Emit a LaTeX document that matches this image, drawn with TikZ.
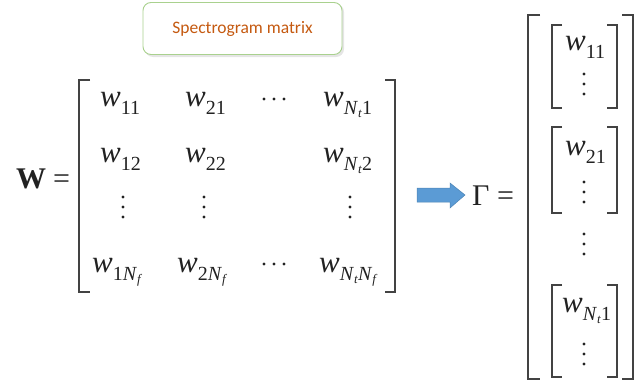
\documentclass[tikz,border=0pt]{standalone}
\usepackage{fontspec}
\setmainfont{Liberation Serif}
\newfontfamily\tnr{Liberation Serif}
\newfontfamily\boxfont{Carlito}
\newcommand\wsub[1]{\textit{w}\raisebox{-8pt}{\tnr\fontsize{20}{20}\selectfont #1}}
\newcommand\Nt{\textit{N}\raisebox{-3pt}{\tnr\fontsize{13}{13}\selectfont\textit{t}}}
\newcommand\Nf{\textit{N}\raisebox{-3pt}{\tnr\fontsize{13}{13}\selectfont\textit{f}}}
\definecolor{boxgreen}{HTML}{A9D18E}
\definecolor{boxorange}{HTML}{C55A11}
\definecolor{arrowblue}{HTML}{5B9BD5}
\definecolor{ink}{HTML}{222222}
\tikzset{
  ent/.style={font=\tnr\fontsize{31}{31}\selectfont, inner sep=0pt, anchor=base west, text=ink},
  big/.style={font=\tnr\fontsize{30}{30}\selectfont, inner sep=0pt, anchor=base west, text=ink},
  brk/.style={draw=ink!85, line width=1.2pt},
  dot/.style={fill=ink},
  titlebox/.style={draw=boxgreen, line width=0.9pt, rounded corners=8pt, fill=white, minimum width=199pt, minimum height=52pt, font=\boxfont\fontsize{17.5}{17.5}\selectfont, text=boxorange}
}
\begin{document}
\begin{tikzpicture}[x=1pt,y=-1pt]
\useasboundingbox (0,0) rectangle (644,380);
% title box
\fill[black!10, rounded corners=8pt] (145,4) rectangle (344,57);
\node[titlebox] (title) at (242.5,28.5) {Spectrogram matrix};
% W =
\node[big] (W) at (16,188) {\textbf{W}};
\node[big] (eq1) at (53,188) {=};
% main matrix brackets
\draw[brk] (90,80) -- (79,80) -- (79,292) -- (90,292);
\draw[brk] (385,80) -- (395,80) -- (395,292) -- (385,292);
% entries
\node[ent] (w11) at (100,106) {\wsub{11}};
\node[ent] (w21) at (185,106) {\wsub{21}};
\node[ent] (wN1) at (323,106) {\wsub{\Nt 1}};
\node[ent] (w12) at (100,162) {\wsub{12}};
\node[ent] (w22) at (185,162) {\wsub{22}};
\node[ent] (wN2) at (323,162) {\wsub{\Nt 2}};
\node[ent] (w1N) at (92,272) {\wsub{1\Nf}};
\node[ent] (w2N) at (177,272) {\wsub{2\Nf}};
\node[ent] (wNN) at (319,272) {\wsub{\Nt\Nf}};
% horizontal dots
\foreach \x in {264,274,284} {\fill[dot] (\x,99) circle (1.7); \fill[dot] (\x,264) circle (1.7);}
% vertical dots
\foreach \x in {123,204,350} {\foreach \y in {197,207,217} {\fill[dot] (\x,\y) circle (1.7);}}
% block arrow
\path[fill=arrowblue, draw=arrowblue!85!black, line width=0.5pt]
  (417,188) -- (450,188) -- (450,183) -- (465,195) -- (450,208) -- (450,202) -- (417,202) -- cycle;
% Gamma =
\node[big] (G) at (472,205) {Γ};
\node[big] (eq2) at (497,205) {=};
% outer bracket
\draw[brk] (540,15) -- (528,15) -- (528,379) -- (540,379);
\draw[brk] (622,15) -- (633,15) -- (633,379) -- (622,379);
% inner blocks
\draw[brk] (562,25) -- (552,25) -- (552,108) -- (562,108);
\draw[brk] (607,25) -- (617,25) -- (617,108) -- (607,108);
\draw[brk] (562,127) -- (552,127) -- (552,213) -- (562,213);
\draw[brk] (607,127) -- (617,127) -- (617,213) -- (607,213);
\draw[brk] (562,285) -- (552,285) -- (552,377) -- (562,377);
\draw[brk] (607,285) -- (617,285) -- (617,377) -- (607,377);
\node[ent] (g11) at (565,50) {\wsub{11}};
\node[ent] (g21) at (565,155) {\wsub{21}};
\node[ent] (gN1) at (562,312) {\wsub{\Nt 1}};
\foreach \y in {74,84,94, 182,192,202, 234,244,254, 344,354,364} {\fill[dot] (584,\y) circle (1.7);}
\end{tikzpicture}
\end{document}
